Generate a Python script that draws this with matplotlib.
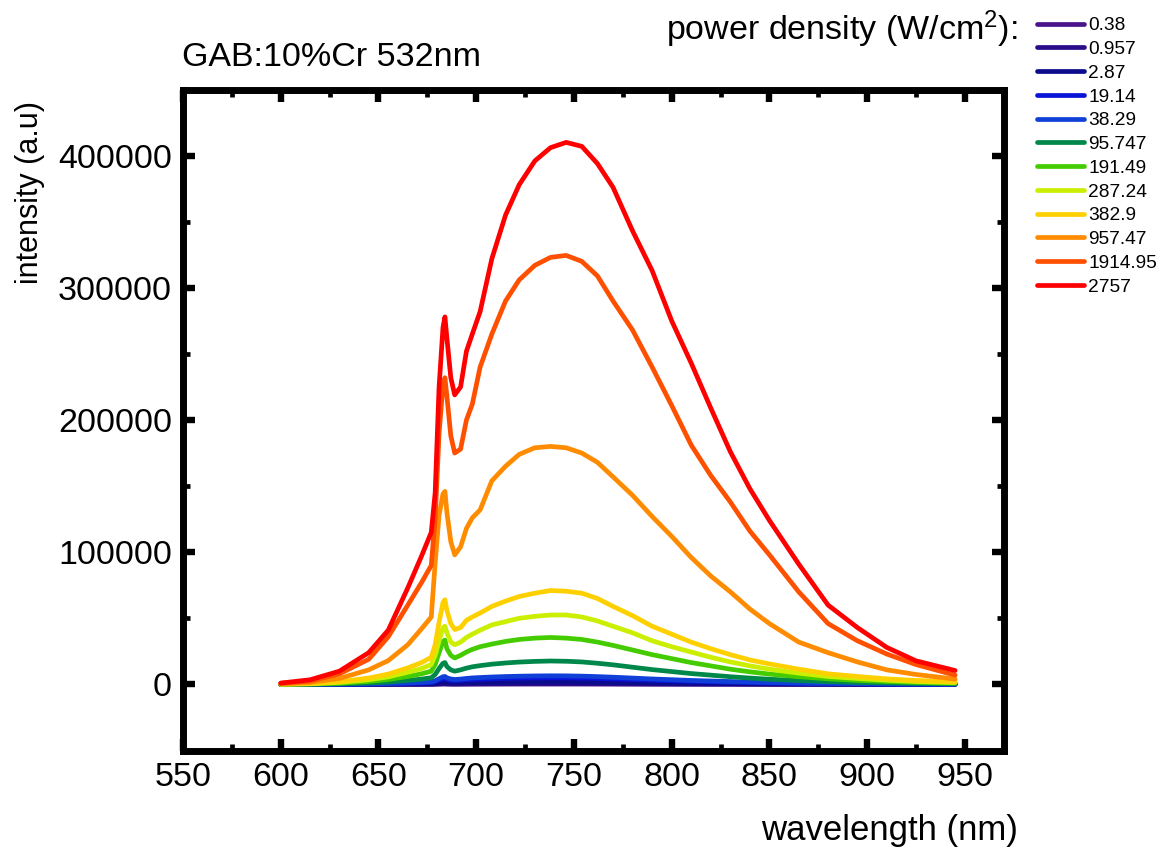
import numpy as np
import matplotlib
matplotlib.use('Agg')
import matplotlib.pyplot as plt
from matplotlib.ticker import MultipleLocator

# wavelength grid (nm), shared by all spectra
wl = [600, 615, 630, 645, 655, 665, 672, 677, 679, 681, 683, 684, 685, 687, 689,
      692, 695, 698, 702, 708, 715, 722, 730, 738, 746, 754, 762, 770, 780, 790,
      800, 810, 820, 830, 840, 850, 865, 880, 895, 910, 925, 945]

# power densities (W/cm^2)
labels = ['0.38', '0.957', '2.87', '19.14', '38.29', '95.747', '191.49',
          '287.24', '382.9', '957.47', '1914.95', '2757']

colors = ['#4A148C', '#2A0C8A', '#0B0B8C', '#0A14D8', '#1040D8', '#00874A',
          '#44CC00', '#CCEE00', '#FFD000', '#FF8C00', '#FF5000', '#FF0000']

p0_38 = [1, 2, 7, 15, 26, 43, 57, 71, 104, 167, 222, 230, 193, 157, 143, 154, 174,
         188, 200, 215, 229, 239, 246, 250, 249, 240, 226, 210, 185, 157, 136, 115,
         99, 82, 68, 55, 40, 29, 21, 15, 11, 7]
p0_957 = [2, 5, 16, 37, 63, 103, 137, 170, 250, 400, 533, 553, 463, 377, 343, 370,
          417, 450, 480, 517, 550, 573, 590, 600, 597, 577, 543, 503, 443, 377, 327,
          277, 237, 197, 163, 133, 97, 70, 50, 37, 27, 17]
p2_87 = [5, 16, 47, 110, 190, 310, 410, 510, 750, 1200, 1600, 1660, 1390, 1130, 1030,
         1110, 1250, 1350, 1440, 1550, 1650, 1720, 1770, 1800, 1790, 1730, 1630, 1510,
         1330, 1130, 980, 830, 710, 590, 490, 400, 290, 210, 150, 110, 80, 50]
p19_14 = [15, 45, 130, 310, 520, 850, 1150, 1420, 2100, 3300, 4450, 4600, 3850, 3150,
          2850, 3100, 3450, 3750, 4000, 4300, 4580, 4770, 4920, 5000, 4960, 4800, 4540,
          4190, 3700, 3150, 2730, 2300, 1960, 1650, 1350, 1120, 810, 590, 420, 310,
          220, 140]
p38_29 = [20, 60, 170, 400, 670, 1100, 1500, 1850, 2700, 4300, 5800, 6000, 5000, 4100,
          3700, 4000, 4500, 4900, 5200, 5600, 5950, 6200, 6400, 6500, 6450, 6250, 5900,
          5450, 4800, 4100, 3550, 3000, 2550, 2150, 1750, 1450, 1050, 770, 550, 400,
          280, 180]
p95_747 = [50, 150, 450, 1100, 1800, 3000, 4000, 5000, 7500, 12000, 16000, 16500,
           13500, 11000, 10000, 11000, 12300, 13300, 14200, 15300, 16200, 16900, 17400,
           17700, 17500, 17000, 16000, 14800, 13000, 11200, 9700, 8200, 7000, 5800,
           4800, 3900, 2900, 2100, 1500, 1100, 750, 500]
p191_49 = [100, 300, 900, 2200, 3700, 6000, 8000, 10000, 15000, 24000, 32500, 33500,
           27000, 22000, 20000, 22000, 24500, 26500, 28500, 30500, 32500, 34000, 35000,
           35500, 35000, 34000, 32000, 29500, 26000, 22500, 19500, 16500, 14000, 11500,
           9500, 7800, 5800, 4200, 3000, 2200, 1500, 1000]
p287_24 = [150, 500, 1500, 3500, 5700, 9200, 12000, 15000, 22000, 33000, 43000, 44000,
           39000, 32000, 30000, 32000, 35500, 38000, 41000, 45000, 47500, 50000, 51500,
           52500, 52500, 51000, 48000, 44000, 39000, 33000, 28500, 24500, 20500, 17000,
           14000, 11500, 8500, 6000, 4500, 3200, 2200, 1400]
p382_9 = [200, 700, 2000, 4800, 7800, 12500, 16500, 20500, 30000, 47000, 62000, 64000,
          56000, 46000, 41500, 43000, 48500, 51000, 54000, 59000, 63000, 66500, 69000,
          71000, 70500, 69000, 65000, 59000, 52000, 44000, 38000, 32000, 27000, 22500,
          18500, 15500, 11500, 8000, 6000, 4200, 3000, 2000]
p957_47 = [500, 1500, 4500, 11000, 18000, 30000, 42000, 51000, 92000, 128000, 144000,
           146000, 130000, 108000, 98000, 104000, 118000, 126000, 132000, 154000,
           165000, 174000, 179000, 180000, 179000, 175000, 168000, 157000, 143000,
           127000, 112000, 96000, 82000, 70000, 57000, 46000, 32000, 24000, 17000,
           11000, 7500, 4000]
p1914_95 = [800, 2500, 8000, 19000, 36000, 60000, 77000, 90000, 125000, 190000, 226000,
            232000, 218000, 188000, 175000, 178000, 200000, 212000, 240000, 265000,
            290000, 306000, 317000, 323000, 324500, 320000, 309000, 290000, 268000,
            240000, 211000, 181000, 158000, 138000, 116000, 98000, 70000, 46000, 33000,
            23000, 15000, 7000]
p2757 = [1000, 3500, 10000, 24000, 41000, 73000, 97000, 115000, 145000, 225000, 270000,
         278000, 262000, 232000, 219000, 225000, 252000, 265000, 282000, 322000, 355000,
         378000, 396000, 406000, 410000, 407000, 394000, 376000, 343000, 313000, 275000,
         243000, 209000, 176000, 148000, 124000, 91000, 60000, 43000, 28000, 17800,
         10500]

spectra = [p0_38, p0_957, p2_87, p19_14, p38_29, p95_747, p191_49, p287_24,
           p382_9, p957_47, p1914_95, p2757]


def main():
    plt.rcParams['font.family'] = ['Liberation Sans', 'DejaVu Sans']
    plt.rcParams['mathtext.default'] = 'regular'

    W, H = 1162, 852
    fig = plt.figure(figsize=(W / 100, H / 100), dpi=100)
    ax = fig.add_axes([183 / W, 1 - 750.5 / H, 821 / W, 661 / H])

    lines = []
    for y, c, lab in zip(spectra, colors, labels):
        ln, = ax.plot(wl, y, color=c, lw=3.4, label=lab,
                      solid_joinstyle='round', solid_capstyle='round')
        lines.append(ln)

    ax.set_xlim(550, 970)
    ax.set_ylim(-50000, 450000)
    ax.xaxis.set_major_locator(MultipleLocator(50))
    ax.xaxis.set_minor_locator(MultipleLocator(25))
    ax.yaxis.set_major_locator(MultipleLocator(100000))
    ax.yaxis.set_minor_locator(MultipleLocator(50000))

    for s in ax.spines.values():
        s.set_linewidth(5)
    ax.tick_params(which='both', direction='in', top=True, right=True,
                   labelsize=24.5)
    ax.tick_params(which='major', length=8.3, width=4.6)
    ax.tick_params(which='minor', length=4.7, width=3.4)
    ax.tick_params(axis='x', which='major', pad=8)
    ax.tick_params(axis='y', which='major', pad=8)

    fig.text(182 / W, 1 - 66 / H, 'GAB:10%Cr 532nm', fontsize=24.5,
             ha='left', va='baseline')
    fig.text(1018 / W, 1 - 40 / H, 'power density (W/cm$^{2}$):',
             fontsize=24.5, ha='right', va='baseline')
    fig.text(30 / W, 1 - 193 / H, 'intensity (a.u)', fontsize=22,
             rotation=90, ha='center', va='center')
    fig.text(1018 / W, 1 - 840 / H, 'wavelength (nm)', fontsize=25,
             ha='right', va='baseline')

    fig.legend(handles=lines, loc='upper left',
               bbox_to_anchor=(1037 / W, 1 - 17 / H), frameon=False,
               fontsize=13.8, labelspacing=0.33, handlelength=2.45,
               handletextpad=0.22, borderpad=0, borderaxespad=0)

    fig.savefig('out.png', dpi=100)
    return 0


if __name__ == '__main__':
    main()
